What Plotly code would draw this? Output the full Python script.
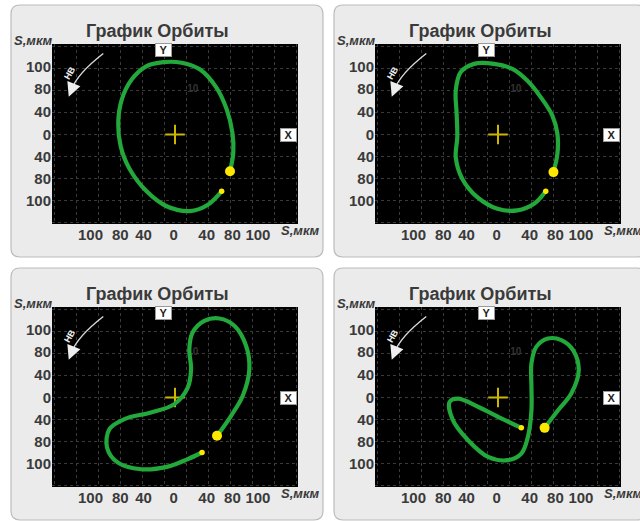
import plotly.graph_objects as go

W, H = 640, 521

# ---------------- data (orbit coordinates in grid units, centre = 0,0) ----------------
orbit1_x = [2.50, 2.65, 2.61, 2.35, 1.89, 1.14, 0.30, -0.53, -1.29, -1.97, -2.42, -2.58,
            -2.47, -2.05, -1.29, -0.38, 0.68, 1.44, 2.12]
orbit1_y = [-1.67, -0.83, 0.08, 1.14, 2.12, 2.95, 3.26, 3.29, 3.11, 2.50, 1.59, 0.53,
            -0.53, -1.59, -2.58, -3.26, -3.48, -3.23, -2.58]

orbit2_x = [2.52, 2.70, 2.70, 2.47, 1.94, 1.33, 0.65, -0.18, -1.09, -1.70, -1.92, -1.88,
            -1.85, -1.92, -1.62, -0.94, -0.03, 0.88, 1.64, 2.17]
orbit2_y = [-1.71, -0.88, 0.03, 0.86, 1.70, 2.45, 2.98, 3.21, 3.21, 2.83, 2.00, 0.94,
            -0.12, -1.03, -2.02, -2.85, -3.38, -3.45, -3.15, -2.58]

orbit3_x = [1.91, 2.55, 3.08, 3.38, 3.23, 2.70, 2.02, 1.33, 0.80, 0.65, 0.73, 0.58,
            -0.03, -1.09, -2.30, -2.98, -3.09, -2.61, -1.55, -0.33, 0.58, 1.23]
orbit3_y = [-1.74, -0.83, 0.08, 1.29, 2.35, 3.26, 3.59, 3.48, 2.95, 2.20, 1.29, 0.45,
            -0.30, -0.68, -0.98, -1.44, -2.27, -2.95, -3.26, -3.14, -2.80, -2.50]

orbit4_x = [2.12, 2.73, 3.33, 3.67, 3.41, 2.88, 2.27, 1.74, 1.52, 1.52, 1.52, 1.36,
            1.06, 0.45, -0.45, -1.36, -2.05, -2.20, -1.82, -0.91, 0.15, 1.06]
orbit4_y = [-1.38, -0.58, 0.18, 1.24, 2.15, 2.61, 2.68, 2.30, 1.55, 0.48, -0.58, -1.79,
            -2.55, -2.85, -2.70, -1.94, -1.03, -0.20, -0.05, -0.42, -0.95, -1.38]

x_tick_pos = [-3.84, -2.49, -1.43, -0.06, 1.44, 2.61, 3.77]
x_tick_labels = ["100", "80", "40", "0", "40", "80", "100"]
y_tick_pos = [3.1, 2.1, 1.05, 0.0, -1.0, -2.0, -3.0]
y_tick_labels = ["100", "80", "40", "0", "40", "80", "100"]
x_grid = [-5.5, -4.5, -3.5, -2.5, -1.5, -0.5, 0.5, 1.5, 2.5, 3.5, 4.5, 5.5]
y_grid = [-4, -3, -2, -1, 0, 1, 2, 3, 4]

center_x = [0]
center_y = [0]
label10_x = [0.81]
label10_y = [2.03]
label10_text = ["10"]

title_text = "График Орбиты"
unit_text = "S,мкм"
dir_text = "НВ"

# ---------------- styling / layout helpers ----------------
FONT = "Liberation Sans"
TXT = "#3a3a3a"
GREEN = "#22a83b"
YELLOW = "#ffe800"
CROSS = "#cdb600"
GRID = "#3a3a3a"
PXU = 22.0  # pixels per grid unit

panels = [
    (0, 0, orbit1_x, orbit1_y),
    (323, 0, orbit2_x, orbit2_y),
    (0, 263, orbit3_x, orbit3_y),
    (323, 263, orbit4_x, orbit4_y),
]


def fx(px):
    return px / W


def fy(py):
    return 1 - py / H


def rounded_path(x0, y0, x1, y1, r):
    rx, ry = r / W, r / H
    X0, X1, Y0, Y1 = fx(x0), fx(x1), fy(y0), fy(y1)
    return (f"M {X0+rx},{Y0} L {X1-rx},{Y0} Q {X1},{Y0} {X1},{Y0-ry} "
            f"L {X1},{Y1+ry} Q {X1},{Y1} {X1-rx},{Y1} L {X0+rx},{Y1} "
            f"Q {X0},{Y1} {X0},{Y1+ry} L {X0},{Y0-ry} Q {X0},{Y0} {X0+rx},{Y0} Z")


# decoration: curved direction arrow (grid units)
arc_start = (-3.26, 3.68)
arc_ctrl = (-4.45, 2.75)
arc_end = (-4.70, 2.05)
arrow_tip = (-4.83, 1.72)
dir_label_pos = (-4.78, 2.80)

fig = go.Figure()
axes = {}
shapes = []
annotations = []

for i, (ox, oy, xs, ys) in enumerate(panels, start=1):
    sfx = "" if i == 1 else str(i)
    xa, ya = "x" + sfx, "y" + sfx
    left, right, top, bottom = 52 + ox, 298 + ox, 44 + oy, 224 + oy
    cx, cy = 175 + ox, 134.5 + oy

    tickfont = dict(family=FONT, size=15, color=TXT, weight="bold")
    axes["xaxis" + sfx] = dict(
        domain=[fx(left), fx(right)], range=[(left - cx) / PXU, (right - cx) / PXU],
        anchor=ya, tickmode="array", tickvals=x_tick_pos, ticktext=x_tick_labels,
        showgrid=False, zeroline=False, showline=False, ticks="", tickfont=tickfont,
        minor=dict(tickmode="array", tickvals=x_grid, showgrid=True, gridcolor=GRID,
                   griddash="dot", gridwidth=1, ticks=""),
        fixedrange=True)
    axes["yaxis" + sfx] = dict(
        domain=[fy(bottom), fy(top)], range=[(cy - bottom) / PXU, (cy - top) / PXU],
        anchor=xa, tickmode="array", tickvals=y_tick_pos, ticktext=y_tick_labels,
        showgrid=False, zeroline=False, showline=False, ticks="", tickfont=tickfont,
        minor=dict(tickmode="array", tickvals=y_grid, showgrid=True, gridcolor=GRID,
                   griddash="dot", gridwidth=1, ticks=""),
        fixedrange=True)

    # panel frame
    shapes.append(dict(type="path", xref="paper", yref="paper", layer="below",
                       path=rounded_path(11 + ox, 5 + oy, 323 + ox, 257 + oy, 9),
                       fillcolor="#ebebeb", line=dict(color="#bcbcbc", width=1.2)))
    # black plot area
    shapes.append(dict(type="rect", xref="paper", yref="paper", layer="below",
                       x0=fx(left), x1=fx(right), y0=fy(bottom), y1=fy(top),
                       fillcolor="black", line=dict(width=0)))
    # direction arc
    shapes.append(dict(type="path", xref=xa, yref=ya, layer="above",
                       path=f"M {arc_start[0]},{arc_start[1]} Q {arc_ctrl[0]},{arc_ctrl[1]} {arc_end[0]},{arc_end[1]}",
                       line=dict(color="#d8d8d8", width=1.4)))

    # traces
    fig.add_trace(go.Scatter(x=label10_x, y=label10_y, mode="text", text=label10_text,
                             textfont=dict(family=FONT, size=10, color="#333333", weight="bold"),
                             xaxis=xa, yaxis=ya, hoverinfo="skip"))
    fig.add_trace(go.Scatter(x=center_x, y=center_y, mode="markers",
                             marker=dict(symbol="cross-thin", size=14,
                                         line=dict(color=CROSS, width=2)),
                             xaxis=xa, yaxis=ya, hoverinfo="skip"))
    fig.add_trace(go.Scatter(x=xs, y=ys, mode="lines",
                             line=dict(color=GREEN, width=4.2, shape="spline", smoothing=1),
                             xaxis=xa, yaxis=ya, hoverinfo="skip"))
    fig.add_trace(go.Scatter(x=[xs[0]], y=[ys[0]], mode="markers",
                             marker=dict(color=YELLOW, size=10), xaxis=xa, yaxis=ya))
    fig.add_trace(go.Scatter(x=[xs[-1]], y=[ys[-1]], mode="markers",
                             marker=dict(color=YELLOW, size=5.5), xaxis=xa, yaxis=ya))

    # title
    annotations.append(dict(xref="paper", yref="paper", x=fx(157.5 + ox), y=fy(31 + oy),
                            text=f"<b>{title_text}</b>", showarrow=False,
                            xanchor="center", yanchor="middle",
                            font=dict(family=FONT, size=18, color=TXT)))
    # unit labels
    annotations.append(dict(xref="paper", yref="paper", x=fx(33 + ox), y=fy(40 + oy),
                            text=f"<b><i>{unit_text}</i></b>", showarrow=False,
                            xanchor="center", yanchor="middle",
                            font=dict(family=FONT, size=13, color=TXT)))
    annotations.append(dict(xref="paper", yref="paper", x=fx(300 + ox), y=fy(230 + oy),
                            text=f"<b><i>{unit_text}</i></b>", showarrow=False,
                            xanchor="center", yanchor="middle",
                            font=dict(family=FONT, size=13, color=TXT)))
    # Y / X boxes
    annotations.append(dict(xref=xa, yref=ya, x=-0.52, y=3.84, text="<b>Y</b>",
                            showarrow=False, bgcolor="white", bordercolor="#9a9a9a",
                            borderwidth=1, borderpad=0, width=15, height=12,
                            font=dict(family=FONT, size=11, color="#222222")))
    annotations.append(dict(xref=xa, yref=ya, x=5.16, y=0.0, text="<b>X</b>",
                            showarrow=False, bgcolor="white", bordercolor="#9a9a9a",
                            borderwidth=1, borderpad=0, width=15, height=12,
                            font=dict(family=FONT, size=11, color="#222222")))
    # direction arrow head + label
    annotations.append(dict(xref=xa, yref=ya, x=arrow_tip[0], y=arrow_tip[1],
                            axref=xa, ayref=ya, ax=arc_end[0], ay=arc_end[1],
                            text="", showarrow=True, arrowhead=2, arrowsize=2.0,
                            arrowwidth=1.4, arrowcolor="#eeeeee", standoff=0))
    annotations.append(dict(xref=xa, yref=ya, x=dir_label_pos[0], y=dir_label_pos[1],
                            text=f"<b>{dir_text}</b>", showarrow=False, textangle=-60,
                            font=dict(family=FONT, size=9, color="#f0f0f0")))

fig.update_layout(
    width=W, height=H, margin=dict(l=0, r=0, t=0, b=0),
    paper_bgcolor="white", plot_bgcolor="black", showlegend=False,
    shapes=shapes, annotations=annotations, **axes)

fig.write_html("out.html")
